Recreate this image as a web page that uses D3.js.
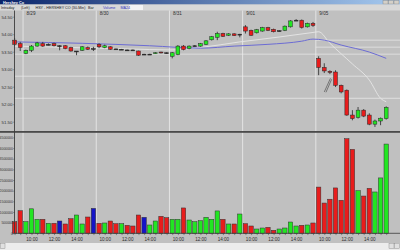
<!DOCTYPE html>
<html>
<head>
<meta charset="utf-8">
<script src="https://cdn.jsdelivr.net/npm/d3@7"></script>
<style>
  body { margin: 0; background: #c0c0c0; }
  svg { display: block; font-family: "Liberation Sans", Arial, sans-serif; }
</style>
</head>
<body>
<div id="chart"></div>
<script>
// HSY 30-min bars, 8/28 (last 2 bars) to 9/05
var dates = ["8/29", "8/30", "8/31", "9/01", "9/05"];
var dayStart = [2, 15, 28, 41, 54];
var timeLabels = ["10:00", "12:00", "14:00"];
var timeOffset = [1, 5, 9];

var opens = [53.83, 53.73, 53.45, 53.54, 53.66, 53.73, 53.70, 53.73, 53.67, 53.67,
  53.62, 53.51, 53.54, 53.62, 53.59, 53.71, 53.62, 53.64, 53.58, 53.56,
  53.55, 53.55, 53.52, 53.43, 53.42, 53.45, 53.49, 53.47, 53.37, 53.42,
  53.66, 53.59, 53.66, 53.66, 53.71, 53.84, 53.91, 54.02, 53.97, 54.01,
  54.00, 54.21, 54.11, 54.04, 54.09, 54.19, 54.14, 54.09, 54.11, 54.21,
  54.40, 54.40, 54.21, 54.31, 53.31, 53.05, 52.94, 52.92, 52.54, 52.40,
  51.69, 51.62, 51.83, 51.69, 51.43, 51.52, 51.59];
var highs = [53.89, 53.78, 53.56, 53.69, 53.78, 53.78, 53.74, 53.76, 53.69, 53.69,
  53.64, 53.52, 53.66, 53.65, 53.64, 53.74, 53.70, 53.66, 53.59, 53.58,
  53.56, 53.56, 53.53, 53.44, 53.44, 53.49, 53.50, 53.48, 53.49, 53.69,
  53.69, 53.68, 53.69, 53.75, 53.83, 53.95, 54.07, 54.04, 54.03, 54.03,
  54.01, 54.26, 54.13, 54.15, 54.21, 54.21, 54.16, 54.12, 54.25, 54.40,
  54.43, 54.42, 54.33, 54.35, 53.37, 53.17, 52.97, 52.97, 52.56, 52.42,
  51.83, 51.92, 51.86, 51.74, 51.56, 51.62, 51.94];
var lows = [53.66, 53.52, 53.43, 53.49, 53.64, 53.64, 53.68, 53.65, 53.54, 53.57,
  53.50, 53.40, 53.52, 53.55, 53.52, 53.60, 53.60, 53.55, 53.56, 53.55,
  53.53, 53.53, 53.38, 53.41, 53.41, 53.44, 53.45, 53.44, 53.31, 53.40,
  53.54, 53.57, 53.65, 53.64, 53.69, 53.82, 53.83, 53.92, 53.95, 53.95,
  53.91, 54.02, 53.95, 54.02, 54.07, 54.09, 54.05, 54.07, 54.09, 54.19,
  54.38, 54.16, 54.19, 54.21, 52.83, 52.89, 52.86, 52.49, 52.31, 51.67,
  51.54, 51.59, 51.63, 51.40, 51.35, 51.40, 51.56];
var closes = [53.71, 53.62, 53.54, 53.66, 53.75, 53.66, 53.71, 53.67, 53.67, 53.59,
  53.52, 53.52, 53.64, 53.57, 53.59, 53.64, 53.67, 53.57, 53.57, 53.57,
  53.54, 53.54, 53.40, 53.43, 53.43, 53.47, 53.47, 53.46, 53.47, 53.66,
  53.56, 53.66, 53.67, 53.73, 53.81, 53.93, 54.02, 53.94, 54.01, 53.96,
  54.00, 54.09, 53.97, 54.13, 54.19, 54.11, 54.07, 54.10, 54.23, 54.38,
  54.40, 54.19, 54.31, 54.25, 53.05, 52.95, 52.91, 52.54, 52.35, 51.69,
  51.59, 51.83, 51.66, 51.43, 51.52, 51.60, 51.91];

var volumes = [545000, 1060000, 545000, 1150000, 657000, 657000, 470000, 470000, 577000, 437000,
  686000, 859000, 437000, 765000, 1170000, 470000, 484000, 577000, 451000, 451000,
  376000, 343000, 859000, 751000, 390000, 577000, 798000, 733000, 657000, 657000,
  1190000, 624000, 545000, 592000, 751000, 657000, 1050000, 657000, 437000, 437000,
  906000, 451000, 343000, 202000, 249000, 282000, 141000, 202000, 249000, 530000,
  343000, 376000, 390000, 484000, 2170000, 1420000, 1600000, 2130000, 1550000, 4440000,
  3940000, 2000000, 1750000, 2110000, 1940000, 2600000, 4190000];
// r = down, g = up, b = unchanged
var volDir = ["r", "r", "g", "g", "g", "r", "g", "r", "b", "r",
  "r", "g", "g", "r", "b", "r", "g", "r", "r", "g",
  "r", "r", "r", "b", "g", "g", "r", "r", "g", "g",
  "r", "g", "g", "g", "g", "g", "g", "r", "g", "r",
  "g", "r", "r", "g", "g", "r", "r", "g", "g", "g",
  "g", "r", "g", "r", "r", "r", "r", "r", "r", "r",
  "r", "g", "r", "r", "g", "g", "g"];

// moving averages, read at a few bars
var maSlow = [[0, 53.78], [12, 53.74], [24, 53.67], [33, 53.60], [39, 53.66], [45, 53.71],
  [51, 53.80], [53, 53.86], [55, 53.83], [58, 53.69], [63, 53.49], [66, 53.31]];
var maFast = [[0, 53.66], [10, 53.62], [20, 53.58], [28, 53.55], [33, 53.62], [40, 53.78],
  [47, 53.92], [53, 54.05], [54, 54.07], [56, 53.74], [60, 53.15], [63, 52.69], [65, 52.17], [66, 52.07]];

// drawn horizontal lines (price, first bar)
var hLines = [[53.83, 53.5], [53.63, 53.5], [53.43, 0], [52.80, 0], [52.17, 0]];
// small drawn trend lines [i1, p1, i2, p2]
var trendLines = [[55.0, 52.35, 56.1, 52.74], [55.3, 52.34, 56.3, 52.71]];

var priceTicks = [51.5, 52, 52.5, 53, 53.5, 54, 54.5];
var volTicks = [0, 500000, 1000000, 1500000, 2000000, 2500000, 3000000, 3500000, 4000000, 4500000];

var W = 400, H = 250;
var plotL = 14.5, plotR = 400;
var priceTop = 10.5, priceBot = 131;
var volTop = 133, volBot = 233.3;

var colUp = "#22e622", colDn = "#e81c1c", colEq = "#1414c8", edge = "#262626";

var svg = d3.select("#chart").append("svg")
  .attr("width", W).attr("height", H);

svg.append("rect").attr("width", W).attr("height", H).attr("fill", "#c0c0c0");

// scales
var x = d3.scaleLinear().domain([0, 66]).range([14.6, 386.2]);
var y = d3.scaleLinear().domain([51.5, 54.5]).range([121.7, 16.7]);
var yv = d3.scaleLinear().domain([0, 4500000]).range([volBot, volBot - 95.85]);

// title bar
var grad = svg.append("defs").append("linearGradient").attr("id", "tb");
grad.append("stop").attr("offset", "0%").attr("stop-color", "#0a246a");
grad.append("stop").attr("offset", "100%").attr("stop-color", "#a6caf0");
svg.append("rect").attr("width", W).attr("height", 4.5).attr("fill", "url(#tb)");
svg.append("text").attr("x", 3).attr("y", 3.6).text("Hershey Co")
  .style("font-size", "3.8px").style("font-weight", "bold").style("fill", "#fff");
[383, 388.5, 394].forEach(function (bx) {
  svg.append("rect").attr("x", bx).attr("y", 0.5).attr("width", 5).attr("height", 3.5)
    .attr("fill", "#d4d0c8").attr("stroke", "#808080").attr("stroke-width", 0.4);
});

// header line
svg.append("rect").attr("y", 4.5).attr("width", W).attr("height", 6).attr("fill", "#d8d8d8");
svg.append("rect").attr("x", 129).attr("y", 5).attr("width", 14).attr("height", 5).attr("fill", "#f4f4f4");
var header = [["Intraday", 1, "#202020"], ["(Left)", 21, "#202020"],
  ["HSY - HERSHEY CO (30-Min)", 35.5, "#202020"], ["Bar", 88, "#202020"],
  ["Volume", 103, "#3434c0"], ["MA24", 120.5, "#3434c0"]];
header.forEach(function (h) {
  svg.append("text").attr("x", h[1]).attr("y", 9.1).text(h[0])
    .style("font-size", "3.7px").style("fill", h[2]);
});

// drawn horizontal lines
svg.append("g").selectAll("line").data(hLines).join("line")
  .attr("x1", function (d) { return d[1] > 0 ? x(d[1]) : plotL; })
  .attr("x2", plotR)
  .attr("y1", function (d) { return y(d[0]); })
  .attr("y2", function (d) { return y(d[0]); })
  .attr("stroke", "#e2e2e2").attr("stroke-width", 0.9);

// day separators through both panes
svg.append("g").selectAll("line").data(dayStart).join("line")
  .attr("x1", function (d) { return x(d - 0.5); })
  .attr("x2", function (d) { return x(d - 0.5); })
  .attr("y1", priceTop).attr("y2", volBot)
  .attr("stroke", "#ececec").attr("stroke-width", 0.8);

// date labels
svg.append("g").selectAll("text").data(dates).join("text")
  .attr("x", function (d, i) { return x(dayStart[i] - 0.5) + 3.5; })
  .attr("y", 15)
  .text(function (d) { return d; })
  .style("font-size", "4.6px").style("fill", "#303030");

// moving averages
var maLine = d3.line()
  .x(function (d) { return x(d[0]); })
  .y(function (d) { return y(d[1]); })
  .curve(d3.curveMonotoneX);
svg.append("path").datum(maFast).attr("d", maLine)
  .attr("fill", "none").attr("stroke", "#e6e6e6").attr("stroke-width", 0.9);
svg.append("path").datum(maSlow).attr("d", maLine)
  .attr("fill", "none").attr("stroke", "#6c6cd4").attr("stroke-width", 1);

// trend lines
svg.append("g").selectAll("line").data(trendLines).join("line")
  .attr("x1", function (d) { return x(d[0]); }).attr("y1", function (d) { return y(d[1]); })
  .attr("x2", function (d) { return x(d[2]); }).attr("y2", function (d) { return y(d[3]); })
  .attr("stroke", "#404040").attr("stroke-width", 0.6);

// candles
var candles = d3.range(opens.length);
var cg = svg.append("g");
cg.selectAll("line").data(candles).join("line")
  .attr("x1", function (i) { return x(i); }).attr("x2", function (i) { return x(i); })
  .attr("y1", function (i) { return y(highs[i]); })
  .attr("y2", function (i) { return y(lows[i]); })
  .attr("stroke", edge).attr("stroke-width", 0.8);
cg.selectAll("rect").data(candles).join("rect")
  .attr("x", function (i) { return x(i) - 1.9; })
  .attr("width", 3.8)
  .attr("y", function (i) { return y(Math.max(opens[i], closes[i])); })
  .attr("height", function (i) { return Math.max(0.9, Math.abs(y(opens[i]) - y(closes[i]))); })
  .attr("fill", function (i) {
    if (Math.abs(closes[i] - opens[i]) < 0.015) return edge;
    return closes[i] > opens[i] ? colUp : colDn;
  })
  .attr("stroke", edge).attr("stroke-width", 0.5);

// pane separator
svg.append("rect").attr("x", 0).attr("y", priceBot).attr("width", W).attr("height", 1.8).attr("fill", "#4a4a4a");

// volume bars
svg.append("g").selectAll("rect").data(volumes).join("rect")
  .attr("x", function (d, i) { return x(i) - 2.2; })
  .attr("width", 4.4)
  .attr("y", function (d) { return yv(d); })
  .attr("height", function (d) { return volBot - yv(d); })
  .attr("fill", function (d, i) { return volDir[i] === "g" ? colUp : (volDir[i] === "r" ? colDn : colEq); })
  .attr("stroke", "#303030").attr("stroke-width", 0.5);

// left axes
svg.append("line").attr("x1", plotL).attr("x2", plotL).attr("y1", priceTop).attr("y2", volBot)
  .attr("stroke", "#3c3c3c").attr("stroke-width", 0.9);

var pAxis = svg.append("g").attr("transform", "translate(" + plotL + ",0)")
  .call(d3.axisLeft(y).tickValues(priceTicks).tickFormat(d3.format(".2f")).tickSize(1.2).tickPadding(0.8));
pAxis.select(".domain").remove();

var vAxis = svg.append("g").attr("transform", "translate(" + plotL + ",0)")
  .call(d3.axisLeft(yv).tickValues(volTicks).tickFormat(d3.format("d")).tickSize(1.2).tickPadding(0.5));
vAxis.select(".domain").remove();

pAxis.selectAll("text").style("font-size", "4.4px").attr("fill", "#303030").attr("font-family", "inherit");
vAxis.selectAll("text").style("font-size", "3.4px").attr("fill", "#303030").attr("font-family", "inherit");
svg.selectAll(".tick line").attr("stroke", "#3c3c3c").attr("stroke-width", 0.5);

// baseline and bottom time axis
svg.append("line").attr("x1", plotL).attr("x2", plotR).attr("y1", volBot).attr("y2", volBot)
  .attr("stroke", "#3c3c3c").attr("stroke-width", 0.8);

var timeAt = {};
dayStart.forEach(function (s) {
  timeOffset.forEach(function (o, k) { timeAt[s + o] = timeLabels[k]; });
});
var tAxis = svg.append("g").attr("transform", "translate(0," + volBot + ")")
  .call(d3.axisBottom(x).tickValues(candles).tickFormat(function (i) { return timeAt[i] || ""; })
    .tickSize(1.8).tickPadding(2.6));
tAxis.select(".domain").remove();
tAxis.selectAll("text").style("font-size", "4.6px").attr("fill", "#303030").attr("font-family", "inherit");
tAxis.selectAll("line").attr("stroke", "#3c3c3c").attr("stroke-width", 0.5);

// scrollbar
svg.append("rect").attr("x", 0).attr("y", 243).attr("width", W).attr("height", 7).attr("fill", "#ececec");
svg.append("rect").attr("x", 0.5).attr("y", 243.5).attr("width", 4.5).attr("height", 5)
  .attr("fill", "#e0e0e0").attr("stroke", "#808080").attr("stroke-width", 0.4);
svg.append("rect").attr("x", 389).attr("y", 243.5).attr("width", 5).attr("height", 5)
  .attr("fill", "#e0e0e0").attr("stroke", "#808080").attr("stroke-width", 0.4);
svg.append("rect").attr("x", 394.5).attr("y", 243.5).attr("width", 5).attr("height", 5)
  .attr("fill", "#e0e0e0").attr("stroke", "#808080").attr("stroke-width", 0.4);
</script>
</body>
</html>
